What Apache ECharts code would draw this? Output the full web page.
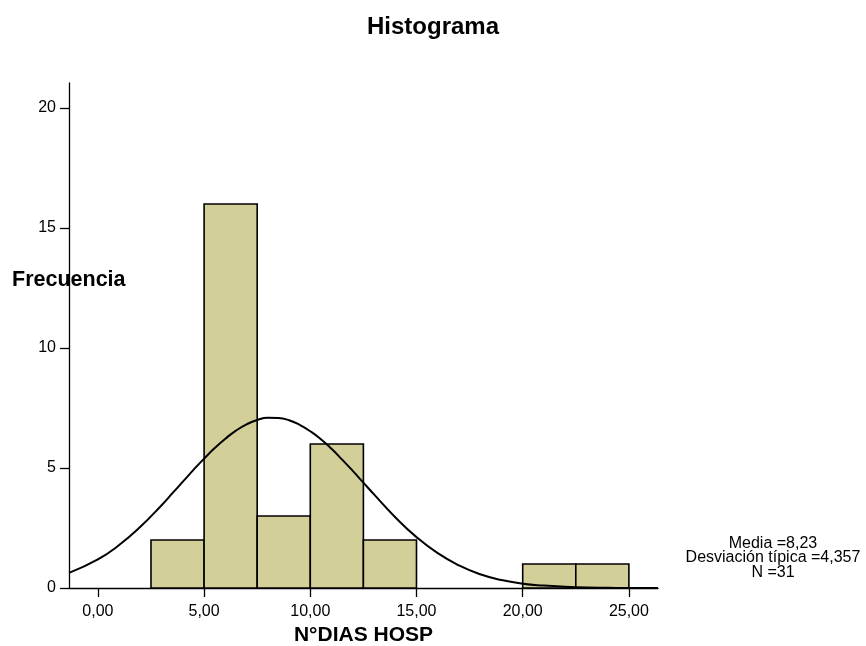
<!DOCTYPE html>
<html>
<head>
<meta charset="utf-8">
<script src="https://cdn.jsdelivr.net/npm/echarts@6/dist/echarts.min.js"></script>
<style>
  html, body { margin: 0; padding: 0; background: #fff; }
  #chart { width: 866px; height: 646px; }
</style>
</head>
<body>
<div id="chart"></div>
<script>
// bins of N°DIAS HOSP (width 2,5) and counts
var binStart = [2.5, 5, 7.5, 10, 12.5, 20, 22.5];
var binEnd   = [5, 7.5, 10, 12.5, 15, 22.5, 25];
var counts   = [2, 16, 3, 6, 2, 1, 1];

// normal curve
var curveX = [-1.36, 0, 1, 2, 3, 3.5, 4, 4.5, 5, 5.5, 6, 6.5, 7, 7.5, 8, 8.5, 9, 9.5, 10, 10.5, 11, 11.5, 12, 12.5, 13, 14, 15, 16, 17, 18, 19, 20, 21, 22, 23, 24, 25, 26.37];
var curveY = [0.63, 1.19, 1.79, 2.55, 3.45, 3.94, 4.43, 4.92, 5.39, 5.83, 6.22, 6.56, 6.82, 7.0, 7.09, 7.08, 6.99, 6.8, 6.53, 6.2, 5.8, 5.35, 4.88, 4.39, 3.9, 2.95, 2.12, 1.45, 0.94, 0.57, 0.33, 0.18, 0.1, 0.05, 0.02, 0.01, 0, 0];

var xTicks = [0, 5, 10, 15, 20, 25];
var yTicks = [0, 5, 10, 15, 20];
var statsLines = ['Media =8,23', 'Desviación típica =4,357', 'N =31'];

var chart = echarts.init(document.getElementById('chart'));
var font = 'Liberation Sans, Arial, sans-serif';

var barData = [];
for (var i = 0; i < counts.length; i++) {
  barData.push([binStart[i], binEnd[i], counts[i]]);
}
var lineData = [];
for (var j = 0; j < curveX.length; j++) {
  lineData.push([curveX[j], curveY[j]]);
}

var option = {
  animation: false,
  backgroundColor: '#fff',
  title: {
    text: 'Histograma',
    left: 'center',
    top: 10,
    textStyle: { fontFamily: font, fontSize: 24, fontWeight: 'bold', color: '#000' }
  },
  grid: { left: 69, right: 208, top: 83, bottom: 58, outerBoundsMode: 'none', containLabel: false },
  xAxis: {
    type: 'value',
    min: -1.36,
    max: 26.37,
    splitLine: { show: false },
    axisLine: { onZero: false, lineStyle: { color: '#000', width: 1.3 } },
    axisTick: { show: true, length: 9, customValues: xTicks, lineStyle: { color: '#000', width: 1.3 } },
    axisLabel: {
      customValues: xTicks,
      margin: 16,
      fontFamily: font, fontSize: 16, color: '#000',
      formatter: function (v) { return v.toFixed(2).replace('.', ','); }
    },
    name: 'N°DIAS HOSP',
    nameLocation: 'middle',
    nameGap: 35,
    nameTextStyle: { fontFamily: font, fontSize: 21, fontWeight: 'bold', color: '#000' }
  },
  yAxis: {
    type: 'value',
    min: 0,
    max: 21.04,
    splitLine: { show: false },
    axisLine: { show: true, onZero: false, lineStyle: { color: '#000', width: 1.3 } },
    axisTick: { show: true, length: 9, customValues: yTicks, lineStyle: { color: '#000', width: 1.3 } },
    axisLabel: {
      customValues: yTicks,
      margin: 13,
      fontFamily: font, fontSize: 16, color: '#000'
    }
  },
  graphic: [
    {
      type: 'text',
      left: 12,
      top: 269,
      style: { text: 'Frecuencia', font: 'bold 21.5px ' + font, fill: '#000' }
    },
    {
      type: 'text',
      x: 773,
      y: 558,
      style: {
        text: statsLines.join('\n'),
        font: '16px ' + font,
        fill: '#000',
        align: 'center',
        verticalAlign: 'middle',
        lineHeight: 14.5
      }
    }
  ],
  series: [
    {
      type: 'custom',
      data: barData,
      encode: { x: [0, 1], y: 2 },
      renderItem: function (params, api) {
        var p0 = api.coord([api.value(0), 0]);
        var p1 = api.coord([api.value(1), api.value(2)]);
        return {
          type: 'rect',
          shape: { x: p0[0], y: p1[1], width: p1[0] - p0[0], height: p0[1] - p1[1] },
          style: { fill: '#d3cf98', stroke: '#000', lineWidth: 1.6 }
        };
      },
      z: 2
    },
    {
      type: 'line',
      data: lineData,
      smooth: true,
      showSymbol: false,
      lineStyle: { color: '#000', width: 2 },
      z: 3
    }
  ]
};

chart.setOption(option);
</script>
</body>
</html>
